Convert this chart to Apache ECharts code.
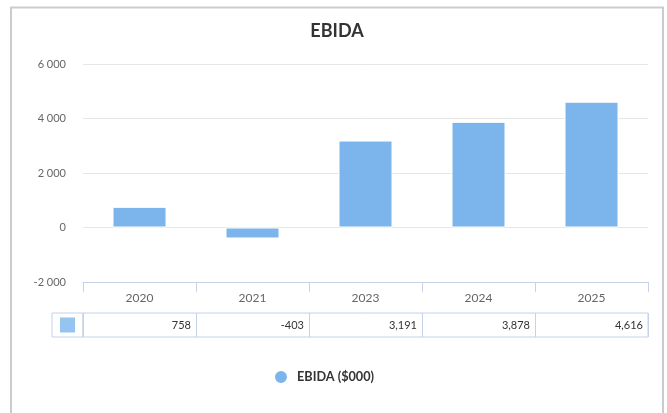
<!DOCTYPE html>
<html>
<head>
<meta charset="utf-8">
<script src="https://cdn.jsdelivr.net/npm/echarts@6/dist/echarts.min.js"></script>
<style>
html,body{margin:0;padding:0;background:#fff;}
#chart{width:667px;height:413px;}
</style>
</head>
<body>
<div id="chart"></div>
<script>
const title = 'EBIDA';
const categories = ['2020', '2021', '2023', '2024', '2025'];
const seriesName = 'EBIDA ($000)';
const values = [758, -403, 3191, 3878, 4616];
const yTicks = [-2000, 0, 2000, 4000, 6000];

const barColor = '#7cb5ec';
const lineColor = '#c6d2e6';
const font = 'Lato, "Open Sans", sans-serif';

const chart = echarts.init(document.getElementById('chart'), null, {renderer: 'canvas'});

chart.setOption({
  animation: false,
  backgroundColor: '#ffffff',
  textStyle: {fontFamily: font},
  title: {
    text: title,
    left: 337, top: 22, textAlign: 'center', padding: 0,
    textStyle: {fontFamily: font, fontSize: 18, fontWeight: 'bold', color: '#333333'}
  },
  legend: {
    data: [seriesName],
    left: 273, top: 369, padding: 0,
    icon: 'circle', itemWidth: 14, itemHeight: 14, itemGap: 5,
    textStyle: {fontFamily: font, fontSize: 12.7, fontWeight: 'bold', color: '#333333', padding: [0, 0, 0, 4]}
  },
  graphic: [{
    type: 'rect', silent: true,
    shape: {x: 11, y: 7.5, width: 652, height: 420},
    style: {fill: 'none', stroke: '#cccccc', lineWidth: 2}
  }],
  grid: [
    {left: 83, top: 64, width: 565, height: 218},
    {left: 83, top: 313, width: 565, height: 24, show: true, borderColor: lineColor, borderWidth: 1},
    {left: 52, top: 313, width: 31, height: 24, show: true, borderColor: lineColor, borderWidth: 1}
  ],
  xAxis: [
    {
      gridIndex: 0, type: 'category', data: categories, position: 'bottom',
      axisLine: {show: true, onZero: false, lineStyle: {color: lineColor}},
      axisTick: {show: true, length: 10, inside: false, lineStyle: {color: lineColor}},
      axisLabel: {color: '#666666', fontSize: 12, fontFamily: font, margin: 10},
      splitLine: {show: false}
    },
    {
      gridIndex: 1, type: 'category', data: categories,
      axisLine: {show: false}, axisTick: {show: false}, axisLabel: {show: false},
      splitLine: {show: true, interval: 0, lineStyle: {color: lineColor}}
    },
    {
      gridIndex: 2, type: 'category', data: ['key'],
      axisLine: {show: false}, axisTick: {show: false}, axisLabel: {show: false}, splitLine: {show: false}
    }
  ],
  yAxis: [
    {
      gridIndex: 0, type: 'value', min: yTicks[0], max: yTicks[yTicks.length - 1], interval: 2000,
      axisLine: {show: false}, axisTick: {show: false},
      axisLabel: {
        color: '#666666', fontSize: 11, fontFamily: font, margin: 17,
        formatter: v => String(v).replace(/\B(?=(\d{3})+(?!\d))/g, ' ')
      },
      splitLine: {show: true, lineStyle: {color: '#e6e6e6'}}
    },
    {gridIndex: 1, type: 'value', min: 0, max: 1, show: false},
    {gridIndex: 2, type: 'value', min: 0, max: 1, show: false}
  ],
  series: [
    {
      name: seriesName, type: 'bar', xAxisIndex: 0, yAxisIndex: 0,
      data: values, barWidth: 54,
      itemStyle: {color: barColor, borderColor: '#ffffff', borderWidth: 1}
    },
    {
      type: 'custom', xAxisIndex: 1, yAxisIndex: 1, silent: true,
      data: values.map((v, i) => [i, 0.5, v]),
      renderItem: function (params, api) {
        const p = api.coord([api.value(0), api.value(1)]);
        const w = api.size([1, 0])[0];
        return {
          type: 'text',
          style: {
            x: p[0] + w / 2 - 5, y: p[1],
            text: Number(api.value(2)).toLocaleString('en-US'),
            textAlign: 'right', textVerticalAlign: 'middle',
            fill: '#333333', font: '11px ' + font
          }
        };
      }
    },
    {
      type: 'scatter', xAxisIndex: 2, yAxisIndex: 2, silent: true,
      data: [[0, 0.5]], symbol: 'rect', symbolSize: 15,
      itemStyle: {color: barColor}
    }
  ]
});
</script>
</body>
</html>
